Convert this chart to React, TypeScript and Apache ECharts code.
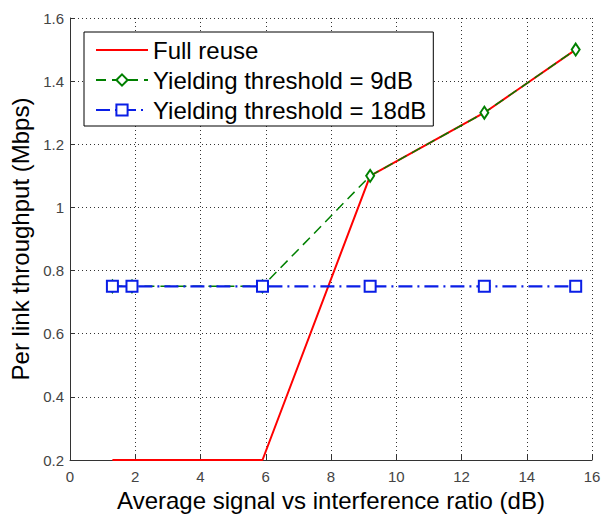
import React, { useEffect, useRef } from "react";
import * as echarts from "echarts";

const xValues = [1.3, 1.9, 5.9, 9.2, 12.7, 15.5];
const fullReuse = [0.2, 0.2, 0.2, 1.1, 1.3, 1.5];
const yield9 = [0.75, 0.75, 0.75, 1.1, 1.3, 1.5];
const yield18 = [0.75, 0.75, 0.75, 0.75, 0.75, 0.75];
const seriesNames = ["Full reuse", "Yielding threshold = 9dB", "Yielding threshold = 18dB"];

const pairs = (ys: number[]) => xValues.map((x, i) => [x, ys[i]]);

export default function App() {
  const ref = useRef<HTMLDivElement>(null);
  useEffect(() => {
    if (!ref.current) return;
    const chart = echarts.init(ref.current, null, { renderer: "svg" });
    const font = "Liberation Sans, Arial, sans-serif";
    chart.setOption({
      animation: false,
      backgroundColor: "#fff",
      textStyle: { fontFamily: font },
      grid: { left: 70, right: 16, top: 18, bottom: 54, containLabel: false, outerBoundsMode: "none" },
      legend: {
        left: 84,
        top: 32,
        orient: "vertical",
        backgroundColor: "#fff",
        borderColor: "#000",
        borderWidth: 1,
        borderRadius: 0,
        padding: [6, 7, 4, 11],
        itemGap: 6,
        itemWidth: 52,
        itemHeight: 14,
        textStyle: { fontSize: 24, color: "#000", fontFamily: font },
        data: [
          { name: seriesNames[0], itemStyle: { opacity: 0 } },
          seriesNames[1],
          seriesNames[2],
        ],
      },
      xAxis: {
        type: "value",
        min: 0,
        max: 16,
        interval: 2,
        name: "Average signal vs interference ratio (dB)",
        nameLocation: "middle",
        nameGap: 27,
        nameTextStyle: { fontSize: 24, color: "#000", fontFamily: font },
        axisLine: { show: true, lineStyle: { color: "#333", width: 1 } },
        axisTick: { show: true, inside: true, length: 5, lineStyle: { color: "#333" } },
        axisLabel: { fontSize: 15, color: "#444", margin: 9 },
        splitLine: { show: true, lineStyle: { color: "#333", type: [1, 3], width: 1 } },
      },
      yAxis: {
        type: "value",
        min: 0.2,
        max: 1.6,
        interval: 0.2,
        name: "Per link throughput (Mbps)",
        nameLocation: "middle",
        nameGap: 36,
        nameTextStyle: { fontSize: 24, color: "#000", fontFamily: font },
        axisLine: { show: true, lineStyle: { color: "#333", width: 1 } },
        axisTick: { show: true, inside: true, length: 5, lineStyle: { color: "#333" } },
        axisLabel: {
          fontSize: 15,
          color: "#444",
          margin: 6,
          formatter: (v: number) => (Math.abs(v - 1) < 1e-9 ? "1" : v.toFixed(1)),
        },
        splitLine: { show: true, lineStyle: { color: "#333", type: [1, 3], width: 1 } },
      },
      series: [
        {
          name: seriesNames[0],
          type: "line",
          data: pairs(fullReuse),
          showSymbol: false,
          symbol: "none",
          lineStyle: { color: "#f00", width: 2 },
          itemStyle: { color: "#f00" },
          z: 3,
        },
        {
          name: seriesNames[1],
          type: "line",
          data: pairs(yield9),
          symbol: "diamond",
          symbolSize: [8, 12],
          lineStyle: { color: "#008000", width: 1.5, type: [10, 6] },
          itemStyle: { color: "#fff", borderColor: "#008000", borderWidth: 2 },
          z: 4,
        },
        {
          name: seriesNames[2],
          type: "line",
          data: pairs(yield18),
          symbol: "rect",
          symbolSize: 11,
          lineStyle: { color: "#0a1ee6", width: 2.2, type: [14, 5, 2, 5] },
          itemStyle: { color: "#fff", borderColor: "#0a1ee6", borderWidth: 2 },
          z: 5,
        },
      ],
    });
    return () => chart.dispose();
  }, []);
  return (
    <div
      ref={ref}
      style={{ position: "absolute", left: 0, top: 0, width: 608, height: 514 }}
    />
  );
}
